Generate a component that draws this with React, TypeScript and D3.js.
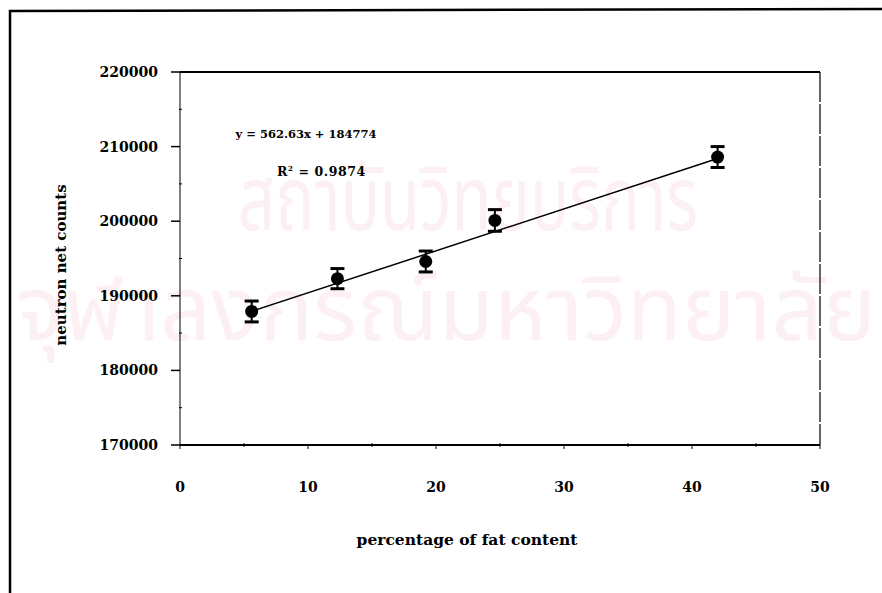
import * as d3 from 'd3';

const fatPercent = [5.6, 12.3, 19.2, 24.6, 42.0];
const netCounts = [187900, 192300, 194600, 200100, 208600];
const countError = [1400, 1350, 1400, 1450, 1400];

const xTicks = [0, 10, 20, 30, 40, 50];
const xMinorTicks = [5, 15, 25, 35, 45];
const yTicks = [170000, 180000, 190000, 200000, 210000, 220000];
const yMinorTicks = [175000, 185000, 195000, 205000, 215000];

const slope = 562.63;
const intercept = 184774;
const equationLabel = 'y = 562.63x + 184774';
const r2Label = '0.9874';

const watermarkTop = 'สถาบันวิทยบริการ';
const watermarkBottom = 'จุฬาลงกรณ์มหาวิทยาลัย';

const margin = { top: 72, right: 62, bottom: 148, left: 180 };
const chartWidth = 882;
const chartHeight = 593;
const font = '"DejaVu Serif", "Liberation Serif", serif';

function App() {
    const drawWidth = chartWidth - margin.left - margin.right;
    const drawHeight = chartHeight - margin.top - margin.bottom;

    const xScale = d3.scaleLinear().domain([0, 50]).range([margin.left, margin.left + drawWidth]);
    const yScale = d3.scaleLinear().domain([170000, 220000]).range([margin.top + drawHeight, margin.top]);

    const points = fatPercent.map((x, i) => ({ x, y: netCounts[i], err: countError[i] }));
    const xExtent = d3.extent(fatPercent) as [number, number];
    const fitLine = d3.line<number>()
        .x(d => xScale(d))
        .y(d => yScale(slope * d + intercept));

    const x0 = margin.left;
    const x1 = margin.left + drawWidth;
    const y0 = margin.top + drawHeight;
    const y1 = margin.top;

    return (
        <svg width={chartWidth} height={chartHeight}
            style={{ position: 'fixed', left: 0, top: 0, background: '#fff' }}>
            <rect width={chartWidth} height={chartHeight} fill="#fff" />

            {/* scanned watermark */}
            <g fill="#fcf0f3" fontFamily='"Noto Sans Thai", "Noto Sans", sans-serif' textAnchor="middle">
                <text x={468} y={230} fontSize={90} textLength={460} lengthAdjust="spacingAndGlyphs">{watermarkTop}</text>
                <text x={446} y={340} fontSize={90} textLength={860} lengthAdjust="spacingAndGlyphs">{watermarkBottom}</text>
            </g>

            {/* page frame */}
            <path d={`M10,${chartHeight} L10,11 L${chartWidth},9`} fill="none" stroke="#000" strokeWidth={2.5} />

            {/* plot frame */}
            <line x1={x0} x2={x1} y1={y1} y2={y1} stroke="#000" strokeWidth={2} />
            <line x1={x0} x2={x1} y1={y0} y2={y0} stroke="#000" strokeWidth={2} />
            <line x1={x0} x2={x0} y1={y1} y2={y0} stroke="#000" strokeWidth={1} />
            <line x1={x1} x2={x1} y1={y1} y2={y0} stroke="#000" strokeWidth={1.2} strokeDasharray="30 2" />

            {/* y axis */}
            {yTicks.map(t => (
                <g key={t}>
                    <line x1={x0 - 9} x2={x0} y1={yScale(t)} y2={yScale(t)} stroke="#000" strokeWidth={1.5} />
                    <text x={158} y={yScale(t)} dy="0.35em" textAnchor="end" fontFamily={font}
                        fontWeight="bold" fontSize={14}>{t}</text>
                </g>
            ))}
            {yMinorTicks.map(t => (
                <line key={t} x1={x0 - 1} x2={x0 + 2} y1={yScale(t)} y2={yScale(t)} stroke="#000" strokeWidth={1} />
            ))}

            {/* x axis */}
            {xTicks.map(t => (
                <g key={t}>
                    <line x1={xScale(t)} x2={xScale(t)} y1={y0} y2={y0 + 4} stroke="#000" strokeWidth={1} />
                    <text x={xScale(t)} y={487} dy="0.35em" textAnchor="middle" fontFamily={font}
                        fontWeight="bold" fontSize={14}>{t}</text>
                </g>
            ))}
            {xMinorTicks.map(t => (
                <line key={t} x1={xScale(t)} x2={xScale(t)} y1={y0 - 2} y2={y0 + 2} stroke="#000" strokeWidth={1} />
            ))}

            {/* axis titles */}
            <text transform="translate(66,265) rotate(-90)" textAnchor="middle" fontFamily={font}
                fontWeight="bold" fontSize={15}>neutron net counts</text>
            <text x={467} y={540} dy="0.35em" textAnchor="middle" fontFamily={font}
                fontWeight="bold" fontSize={15.5}>percentage of fat content</text>

            {/* trend line */}
            <path d={fitLine(xExtent) ?? ''} fill="none" stroke="#000" strokeWidth={1.5} />

            {/* error bars and markers */}
            {points.map(p => (
                <g key={p.x}>
                    <line x1={xScale(p.x)} x2={xScale(p.x)} y1={yScale(p.y - p.err)} y2={yScale(p.y + p.err)}
                        stroke="#000" strokeWidth={2} />
                    <line x1={xScale(p.x) - 7} x2={xScale(p.x) + 7} y1={yScale(p.y + p.err)} y2={yScale(p.y + p.err)}
                        stroke="#000" strokeWidth={3} />
                    <line x1={xScale(p.x) - 7} x2={xScale(p.x) + 7} y1={yScale(p.y - p.err)} y2={yScale(p.y - p.err)}
                        stroke="#000" strokeWidth={3} />
                    <circle cx={xScale(p.x)} cy={yScale(p.y)} r={6.5} fill="#000" />
                </g>
            ))}

            {/* regression labels */}
            <text x={306} y={134} dy="0.35em" textAnchor="middle" fontFamily={font}
                fontWeight="bold" fontSize={11.5}>{equationLabel}</text>
            <text x={277} y={172} dy="0.35em" fontFamily={font} fontWeight="bold" fontSize={12.5}
                letterSpacing={0.6}>
                R<tspan dy="-5" fontSize={7}>2</tspan><tspan dy="5"> = {r2Label}</tspan>
            </text>
        </svg>
    );
}

export default App;
